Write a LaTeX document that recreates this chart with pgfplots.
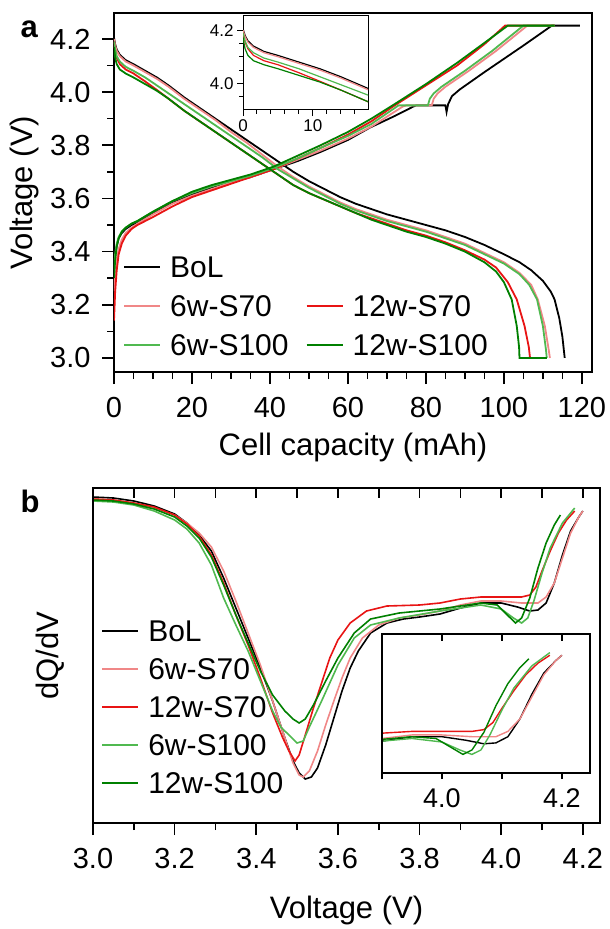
\documentclass[border=0pt]{standalone}
\usepackage{pgfplots}
\usepackage{pgfplotstable}
\pgfplotsset{compat=1.18}
\usepackage{fontspec}
\setmainfont{Liberation Sans}
\definecolor{pinkc}{RGB}{240,135,135}
\definecolor{redc}{RGB}{232,20,20}
\definecolor{lgreen}{RGB}{80,185,80}
\definecolor{dgreen}{RGB}{0,128,0}

% ---- panel a: discharge ----
\pgfplotstableread{
x y
0 4.205
0.3 4.18
0.7 4.16
1.5 4.14
3 4.12
5 4.105
8 4.08
11 4.055
14 4.025
18 3.98
22 3.94
26 3.90
30 3.86
34 3.82
38 3.78
42 3.74
46 3.70
50 3.665
54 3.635
58 3.605
62 3.58
66 3.56
70 3.54
75 3.52
80 3.50
85 3.48
90 3.455
95 3.425
100 3.39
104 3.36
107 3.33
110 3.29
112 3.25
113 3.22
114.2 3.15
115 3.08
115.6 3.0
}\dBoL
\pgfplotstableread{
x y
0 4.20
0.3 4.175
0.7 4.155
1.5 4.135
3 4.115
5 4.10
8 4.075
11 4.05
14 4.02
18 3.975
22 3.935
26 3.895
30 3.85
34 3.81
38 3.765
42 3.72
46 3.68
50 3.645
54 3.615
58 3.585
62 3.56
66 3.54
70 3.52
75 3.50
80 3.48
85 3.455
90 3.43
95 3.395
100 3.36
104 3.32
107 3.275
108.7 3.22
110.5 3.12
111.5 3.03
111.8 3.0
}\dSsevA
\pgfplotstableread{
x y
0 4.19
0.3 4.155
0.7 4.13
1.5 4.105
3 4.085
5 4.07
8 4.04
11 4.008
14 3.975
18 3.93
22 3.89
26 3.85
30 3.81
34 3.77
38 3.73
42 3.69
46 3.65
50 3.62
54 3.595
58 3.57
62 3.545
66 3.525
70 3.505
75 3.48
80 3.46
85 3.435
90 3.405
95 3.37
98 3.34
101 3.285
103.3 3.22
105.3 3.12
106.4 3.04
106.7 3.0
110 3.0
}\dSsevB
\pgfplotstableread{
x y
0 4.19
0.3 4.16
0.7 4.135
1.5 4.115
3 4.095
5 4.08
8 4.055
11 4.025
14 3.995
18 3.955
22 3.915
26 3.875
30 3.835
34 3.795
38 3.755
42 3.71
46 3.675
50 3.64
54 3.61
58 3.58
62 3.555
66 3.535
70 3.515
75 3.495
80 3.475
85 3.45
90 3.425
95 3.39
100 3.355
104 3.315
106.5 3.275
108.5 3.22
110 3.12
110.8 3.03
111 3.0
}\dShunA
\pgfplotstableread{
x y
0 4.17
0.3 4.13
0.7 4.105
1.5 4.085
3 4.07
5 4.055
8 4.03
11 4.005
14 3.975
18 3.93
22 3.89
26 3.85
30 3.81
34 3.77
38 3.73
42 3.69
46 3.65
50 3.62
54 3.595
58 3.57
62 3.545
66 3.52
70 3.50
75 3.475
80 3.455
85 3.43
90 3.40
95 3.36
98 3.325
100 3.285
102 3.22
103.3 3.12
103.9 3.04
104 3.0
111 3.0
}\dShunB

% ---- panel a: charge ----
\pgfplotstableread{
x y
0 3.32
0.3 3.38
0.7 3.42
1.2 3.45
2 3.47
3 3.485
4.5 3.50
6 3.51
10 3.545
15 3.585
20 3.615
25 3.64
30 3.66
35 3.68
41 3.71
47 3.74
53 3.775
60 3.82
65.6 3.866
72 3.91
76.7 3.945
77.5 3.95
85 3.95
85.3 3.925
85.7 3.955
86.7 3.985
88.7 4.01
95 4.075
100 4.125
105 4.175
112.3 4.25
119.5 4.25
}\cBoL
\pgfplotstableread{
x y
0 3.25
0.3 3.31
0.7 3.37
1.2 3.41
2 3.445
3 3.47
4.5 3.49
6 3.505
10 3.54
15 3.58
20 3.61
25 3.635
30 3.66
35 3.68
41 3.71
47 3.745
53 3.78
60 3.825
66 3.87
74 3.945
75 3.95
81.5 3.95
82 3.975
83 3.995
85 4.02
91 4.08
98 4.155
106 4.25
113 4.25
}\cSsevA
\pgfplotstableread{
x y
0 3.14
0.3 3.25
0.7 3.33
1.2 3.39
2 3.43
3 3.46
4.5 3.485
6 3.50
10 3.53
15 3.57
20 3.605
25 3.63
30 3.655
35 3.68
41 3.71
47 3.75
53 3.79
60 3.84
66 3.89
72 3.95
80 4.025
88 4.10
95 4.18
100.3 4.25
113 4.25
}\cSsevB
\pgfplotstableread{
x y
0 3.33
0.3 3.39
0.7 3.43
1.2 3.455
2 3.475
3 3.49
4.5 3.505
6 3.515
10 3.55
15 3.59
20 3.62
25 3.645
30 3.665
35 3.685
41 3.715
47 3.75
53 3.79
60 3.835
66 3.88
73 3.95
80.5 3.95
81 3.975
82 3.995
84 4.02
90 4.08
97 4.155
105 4.25
113 4.25
}\cShunA
\pgfplotstableread{
x y
0 3.30
0.3 3.37
0.7 3.42
1.2 3.45
2 3.475
3 3.49
4.5 3.505
6 3.515
10 3.55
15 3.59
20 3.625
25 3.65
30 3.67
35 3.69
41 3.72
47 3.76
53 3.80
60 3.85
66 3.90
72 3.955
80 4.03
88 4.11
95 4.185
101 4.25
113 4.25
}\cShunB

% ---- panel b: dQ/dV (arbitrary units) ----
\pgfplotstableread{
x y
3.00 326
3.05 325
3.10 322
3.15 317
3.20 309
3.23 300
3.26 288
3.29 272
3.32 245
3.35 215
3.38 185
3.41 155
3.44 122
3.47 85
3.49 62
3.505 50
3.52 44
3.535 46
3.55 55
3.57 78
3.59 105
3.61 132
3.63 155
3.65 172
3.68 190
3.72 200
3.76 204
3.80 206
3.85 209
3.90 215
3.95 220
4.00 220
4.04 216
4.07 212
4.09 213
4.11 220
4.13 240
4.15 268
4.17 292
4.19 306
4.20 312
}\qBoL
\pgfplotstableread{
x y
3.00 324
3.05 323
3.10 320
3.15 315
3.20 308
3.23 300
3.26 290
3.29 276
3.32 252
3.35 222
3.38 190
3.41 158
3.44 122
3.47 85
3.49 60
3.505 48
3.515 46
3.53 52
3.55 72
3.57 98
3.59 122
3.61 145
3.63 165
3.66 185
3.70 198
3.75 205
3.80 208
3.85 212
3.90 218
3.95 222
4.00 222
4.05 220
4.09 220
4.11 226
4.13 240
4.15 265
4.17 290
4.19 306
4.20 312
}\qSsevA
\pgfplotstableread{
x y
3.00 324
3.05 323
3.10 320
3.15 316
3.20 308
3.23 299
3.26 287
3.29 268
3.32 240
3.35 208
3.38 178
3.41 145
3.44 110
3.465 85
3.48 72
3.495 62
3.505 68
3.52 88
3.54 115
3.56 140
3.58 165
3.60 183
3.63 200
3.67 212
3.72 217
3.80 218
3.85 220
3.90 224
3.95 226
4.00 226
4.05 226
4.07 228
4.085 236
4.10 252
4.12 272
4.14 290
4.16 303
4.18 312
}\qSsevB
\pgfplotstableread{
x y
3.00 322
3.05 321
3.10 318
3.15 312
3.20 303
3.23 294
3.26 280
3.29 258
3.32 225
3.35 198
3.38 172
3.40 152
3.42 132
3.44 112
3.46 96
3.48 88
3.50 80
3.515 82
3.53 96
3.56 122
3.60 158
3.64 185
3.68 198
3.75 205
3.85 212
3.95 218
4.00 214
4.03 205
4.05 200
4.065 205
4.08 222
4.10 250
4.12 275
4.15 300
4.18 315
}\qShunA
\pgfplotstableread{
x y
3.00 323
3.05 322
3.10 319
3.15 314
3.20 306
3.23 297
3.26 285
3.29 266
3.32 238
3.35 208
3.38 180
3.41 152
3.44 128
3.47 112
3.49 104
3.505 100
3.52 104
3.54 118
3.57 142
3.60 165
3.64 190
3.68 204
3.75 210
3.85 214
3.95 220
3.99 218
4.02 206
4.035 200
4.05 205
4.07 225
4.09 255
4.11 280
4.13 298
4.145 308
}\qShunB

\pgfplotsset{
  myaxis/.style={
    scale only axis, anchor=north west,
    axis line style={line width=1.6pt},
    tick style={line width=1.6pt, black},
    tick label style={font=\fontsize{29}{34}\selectfont},
    /pgf/number format/assume math mode=true,
  },
  onedec/.style={
    /pgf/number format/fixed,
    /pgf/number format/fixed zerofill,
    /pgf/number format/precision=1,
  },
  myleg/.style={
    legend cell align=left,
    legend image code/.code={\draw[##1, line width=2pt] (0pt,0pt) -- (36pt,0pt);},
    legend style={draw=none, fill=none, anchor=north west,
      font=\fontsize{30}{36}\selectfont,
      nodes={inner sep=0pt, text height=21pt, text depth=0pt},
      /tikz/every odd column/.append style={column sep=9pt},
      /tikz/every even column/.append style={column sep=17pt}},
  },
}

\begin{document}
\begin{tikzpicture}
\path (0pt,0pt) rectangle (610pt,-929pt);

% ================= panel a =================
\begin{axis}[myaxis, myleg,
  at={(114pt,-13pt)}, width=478pt, height=359pt,
  xmin=0, xmax=122.6, ymin=2.947, ymax=4.2975,
  xtick={0,20,40,60,80,100,120}, minor x tick num=3,
  ytick={3.0,3.2,3.4,3.6,3.8,4.0,4.2}, minor y tick num=1,
  tick align=outside, xtick pos=bottom, ytick pos=left,
  major tick length=12pt, minor tick length=7pt,
  yticklabel style={onedec, xshift=-8pt},
  xticklabel style={yshift=-10pt},
  xlabel={Cell capacity (mAh)}, ylabel={Voltage (V)},
  every axis x label/.style={at={(rel axis cs:0.5,0)}, anchor=center, yshift=-75pt, font=\fontsize{31}{37}\selectfont},
  every axis y label/.style={at={(rel axis cs:0,0.5)}, rotate=90, anchor=center, yshift=90pt, font=\fontsize{31}{37}\selectfont},
  legend columns=2,
  legend style={at={(0.0126,0.327)}, row sep=18pt},
]
\addlegendimage{black}\addlegendentry{BoL}
\addlegendimage{empty legend}\addlegendentry{}
\addlegendimage{pinkc}\addlegendentry{6w-S70}
\addlegendimage{redc}\addlegendentry{12w-S70}
\addlegendimage{lgreen}\addlegendentry{6w-S100}
\addlegendimage{dgreen}\addlegendentry{12w-S100}
\addplot[black, line width=1.8pt, forget plot] table {\dBoL};
\addplot[black, line width=1.8pt, forget plot] table {\cBoL};
\addplot[pinkc, line width=1.8pt, forget plot] table {\dSsevA};
\addplot[pinkc, line width=1.8pt, forget plot] table {\cSsevA};
\addplot[redc, line width=1.8pt, forget plot] table {\dSsevB};
\addplot[redc, line width=1.8pt, forget plot] table {\cSsevB};
\addplot[lgreen, line width=1.8pt, forget plot] table {\dShunA};
\addplot[lgreen, line width=1.8pt, forget plot] table {\cShunA};
\addplot[dgreen, line width=1.8pt, forget plot] table {\dShunB};
\addplot[dgreen, line width=1.8pt, forget plot] table {\cShunB};
\end{axis}

% inset a
\begin{axis}[myaxis,
  at={(243pt,-16pt)}, width=125pt, height=94pt,
  axis background/.style={fill=white},
  axis line style={line width=1pt}, tick style={line width=1pt, black},
  tick label style={font=\fontsize{17}{20}\selectfont},
  xmin=0, xmax=17.9, ymin=3.90, ymax=4.253,
  xtick={0,10}, minor xtick={2,4,6,8,12,14,16},
  ytick={4.0,4.2}, minor ytick={3.95,4.05,4.1,4.15},
  tick align=outside, xtick pos=bottom, ytick pos=left,
  major tick length=6pt, minor tick length=4pt,
  yticklabel style={onedec},
]
\addplot[black, line width=1.2pt] table {\dBoL};
\addplot[pinkc, line width=1.2pt] table {\dSsevA};
\addplot[redc, line width=1.2pt] table {\dSsevB};
\addplot[lgreen, line width=1.2pt] table {\dShunA};
\addplot[dgreen, line width=1.2pt] table {\dShunB};
\end{axis}

\node[anchor=base west, font=\bfseries\fontsize{31}{37}\selectfont] at (17pt,-37pt) {a};

% ================= panel b =================
\begin{axis}[myaxis, myleg,
  at={(93pt,-488pt)}, width=507pt, height=335pt,
  xmin=3.0, xmax=4.242, ymin=0, ymax=335,
  xtick={3.0,3.2,3.4,3.6,3.8,4.0,4.2}, minor x tick num=1, ytick=\empty,
  tick align=outside, xtick pos=bottom,
  major tick length=12pt, minor tick length=7pt,
  xticklabel style={onedec, yshift=-10pt},
  xlabel={Voltage (V)}, ylabel={dQ/dV},
  every axis x label/.style={at={(rel axis cs:0.5,0)}, anchor=center, yshift=-87pt, font=\fontsize{31}{37}\selectfont},
  every axis y label/.style={at={(rel axis cs:0,0.5)}, rotate=90, anchor=center, yshift=43pt, font=\fontsize{31}{37}\selectfont},
  legend style={at={(0.01,0.612)}, row sep=17pt},
]
\addplot[black, line width=1.6pt] table {\qBoL};\addlegendentry{BoL}
\addplot[pinkc, line width=1.6pt] table {\qSsevA};\addlegendentry{6w-S70}
\addplot[redc, line width=1.6pt] table {\qSsevB};\addlegendentry{12w-S70}
\addplot[lgreen, line width=1.6pt] table {\qShunA};\addlegendentry{6w-S100}
\addplot[dgreen, line width=1.6pt] table {\qShunB};\addlegendentry{12w-S100}
\end{axis}
% top inward ticks of panel b
\begin{axis}[myaxis,
  at={(93pt,-488pt)}, width=507pt, height=335pt,
  xmin=3.0, xmax=4.242, ymin=0, ymax=335,
  xtick={3.0,3.1,3.2,3.3,3.4,3.5,3.6,3.7,3.8,3.9,4.0,4.1,4.2}, xticklabels={},
  ytick=\empty, tick align=inside, xtick pos=top, major tick length=10pt,
]
\end{axis}

% inset b
\begin{axis}[myaxis,
  at={(382pt,-634pt)}, width=208pt, height=139pt,
  axis background/.style={fill=white},
  axis line style={line width=1.4pt}, tick style={line width=1.4pt, black},
  tick label style={font=\fontsize{27}{32}\selectfont},
  xticklabel style={yshift=-6pt},
  xmin=3.9, xmax=4.247, ymin=179, ymax=336,
  xtick={3.9,4.0,4.1,4.2}, xticklabels={,4.0,,4.2}, ytick=\empty,
  tick align=outside, xtick pos=bottom, major tick length=6pt,
]
\addplot[black, line width=1.4pt] table {\qBoL};
\addplot[pinkc, line width=1.4pt] table {\qSsevA};
\addplot[redc, line width=1.4pt] table {\qSsevB};
\addplot[lgreen, line width=1.4pt] table {\qShunA};
\addplot[dgreen, line width=1.4pt] table {\qShunB};
\end{axis}
\begin{axis}[myaxis,
  at={(382pt,-634pt)}, width=208pt, height=139pt,
  axis line style={line width=1.4pt}, tick style={line width=1.4pt, black},
  xmin=3.9, xmax=4.247, ymin=179, ymax=336,
  xtick={4.0,4.1,4.2}, xticklabels={}, ytick=\empty,
  tick align=inside, xtick pos=top, major tick length=7pt,
]
\end{axis}

\node[anchor=base west, font=\bfseries\fontsize{31}{37}\selectfont] at (17pt,-512pt) {b};
\end{tikzpicture}
\end{document}
